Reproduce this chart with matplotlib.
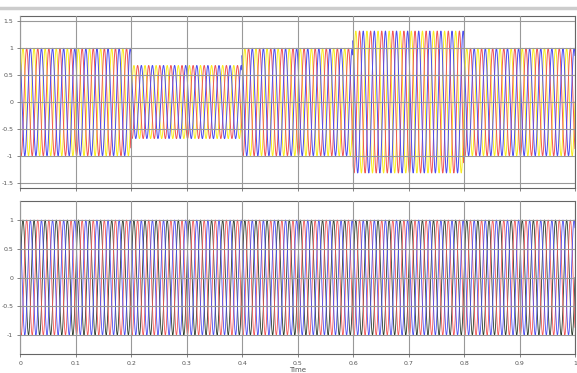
import numpy as np
import matplotlib
matplotlib.use("Agg")
import matplotlib.pyplot as plt
from matplotlib.lines import Line2D

# segment boundaries (s) and per-unit amplitude of the supply voltage
seg_edges = [0.0, 0.2, 0.4, 0.6, 0.8, 1.0]
seg_amp_top = [1.0, 0.68, 1.0, 1.32, 1.0]   # sag / swell
seg_amp_bottom = [1.0, 1.0, 1.0, 1.0, 1.0]  # compensated load voltage
freq = 50.0
phase_shift = [0.0, -2 * np.pi / 3, 2 * np.pi / 3]
colors_top = ["#f8ec20", "#f25555", "#4b4bf0"]
colors_bottom = ["#2a3a2a", "#f25555", "#4b4bf0"]

xticks = [0, 0.1, 0.2, 0.3, 0.4, 0.5, 0.6, 0.7, 0.8, 0.9, 1]
xticklabels = ["0", "0.1", "0.2", "0.3", "0.4", "0.5", "0.6", "0.7", "0.8", "0.9", "1"]
yticks_top = [-1.5, -1, -0.5, 0, 0.5, 1, 1.5]
yticks_bottom = [-1, -0.5, 0, 0.5, 1]

t = np.linspace(0, 1, 20001)


def envelope(amps):
    idx = np.clip(np.searchsorted(seg_edges, t, side="right") - 1, 0, len(amps) - 1)
    return np.array(amps)[idx]


fig = plt.figure(figsize=(5.77, 3.73), dpi=100)
ax1 = fig.add_axes([0.035, 0.496, 0.9615, 0.461])
ax2 = fig.add_axes([0.035, 0.051, 0.9615, 0.410])

env_top = envelope(seg_amp_top)
env_bot = envelope(seg_amp_bottom)
for ph, c in zip(phase_shift, colors_top):
    ax1.plot(t, env_top * np.sin(2 * np.pi * freq * t + ph), color=c, lw=0.7)
for ph, c in zip(phase_shift, colors_bottom):
    ax2.plot(t, env_bot * np.sin(2 * np.pi * freq * t + ph), color=c, lw=0.6)

for ax, yt, ylim in [(ax1, yticks_top, 1.6), (ax2, yticks_bottom, 1.33)]:
    ax.set_xlim(0, 1)
    ax.set_ylim(-ylim, ylim)
    ax.set_yticks(yt)
    ax.set_yticklabels([("%g" % v) for v in yt])
    ax.set_xticks(xticks)
    ax.grid(True, color="#999999", lw=0.8)
    ax.set_axisbelow(False)
    ax.tick_params(labelsize=4.5, length=2, width=0.5, colors="#555555", pad=3)
    for s in ax.spines.values():
        s.set_color("#666666")
        s.set_linewidth(0.8)

ax1.set_xticklabels([])
ax2.set_xticklabels(xticklabels)
ax2.set_xlabel("Time", fontsize=5, color="#555555", labelpad=1)

# scope title bar line at the top
fig.add_artist(Line2D([0.0, 1.0], [0.978, 0.978], color="#cccccc", lw=2.5))

fig.savefig("out.png", dpi=100)
